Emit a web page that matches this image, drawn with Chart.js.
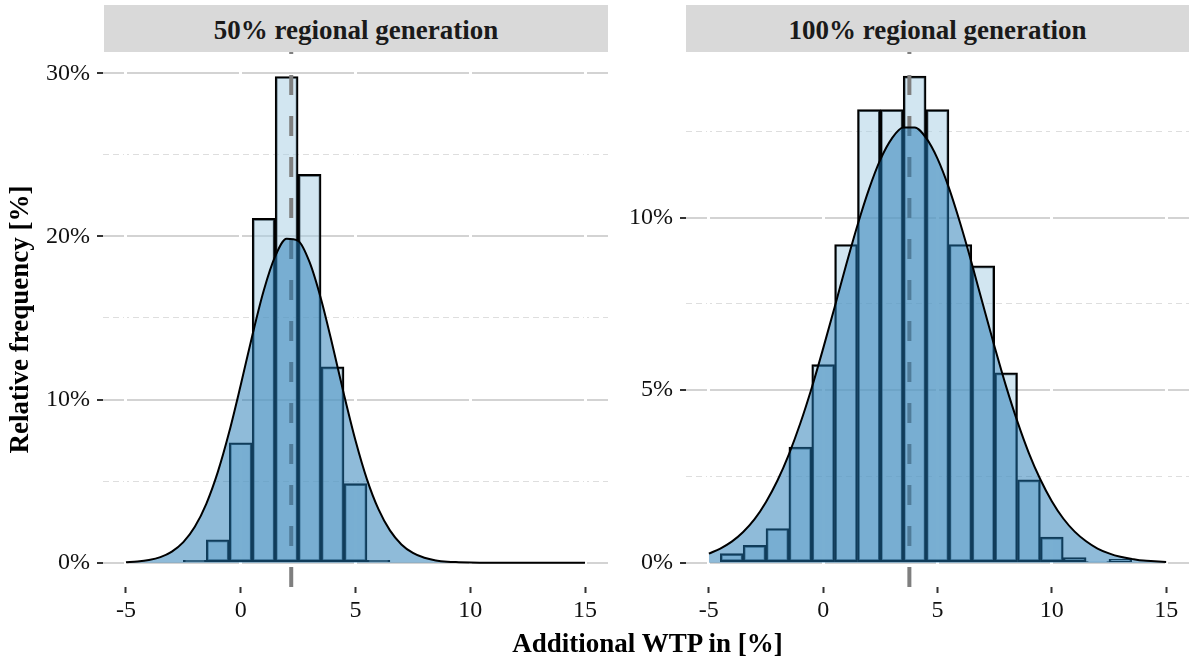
<!DOCTYPE html>
<html>
<head>
<meta charset="utf-8">
<script src="https://cdn.jsdelivr.net/npm/chart.js@4.4.1/dist/chart.umd.min.js"></script>
<style>
  body { margin: 0; width: 1189px; height: 662px; position: relative; background: #fff; overflow: hidden;
         font-family: 'Liberation Serif', 'Times New Roman', serif; }
  .strip { position: absolute; top: 5px; height: 47px; background: #d9d9d9; color: #1a1a1a;
           font-weight: bold; font-size: 27px; line-height: 51px; text-align: center; white-space: nowrap; }
  canvas { position: absolute; top: 52px; }
  #xtitle { position: absolute; left: 447px; width: 401px; top: 628px; line-height: 30px;
            text-align: center; font-weight: bold; font-size: 27px; color: #000; white-space: nowrap; }
</style>
</head>
<body>
<div class="strip" id="strip50" style="left:104px;width:504px;"></div>
<div class="strip" id="strip100" style="left:686px;width:503px;"></div>
<canvas id="c50" width="608" height="590" style="left:0px;"></canvas>
<canvas id="c100" width="579" height="590" style="left:610px;"></canvas>
<div id="xtitle"></div>
<script>
// panel titles and axis titles
const panelTitles = ["50% regional generation", "100% regional generation"];
const xTitle = "Additional WTP in [%]";
const yTitle = "Relative frequency [%]";

// histogram bins (centre of each 1-point bin) and relative frequencies in %
const bins50 = [-2, -1, 0, 1, 2, 3, 4, 5, 6];
const freq50 = [0.15, 1.4, 7.35, 21.1, 29.8, 23.8, 12.0, 4.85, 0.15];

const bins100 = [-4, -3, -2, -1, 0, 1, 2, 3, 4, 5, 6, 7, 8, 9, 10, 11, 12, 13];
const freq100 = [0.26, 0.5, 0.99, 3.35, 5.74, 9.22, 13.13, 13.13, 14.1, 13.13, 9.22, 8.6, 5.5, 2.4, 0.74, 0.15, 0.03, 0.1];

// fitted curve, every half point
const curveX = [-5, -4.5, -4, -3.5, -3, -2.5, -2, -1.5, -1, -0.5, 0, 0.5, 1, 1.5, 2, 2.5, 3, 3.5, 4, 4.5,
                5, 5.5, 6, 6.5, 7, 7.5, 8, 8.5, 9, 9.5, 10, 10.5, 11, 11.5, 12, 12.5, 13, 13.5, 14, 14.5, 15];
const curve50 = [0.03, 0.07, 0.16, 0.34, 0.68, 1.26, 2.2, 3.61, 5.55, 8.02, 10.89, 13.9, 16.67, 18.77, 19.85, 19.73,
                 18.42, 16.15, 13.31, 10.3, 7.49, 5.11, 3.28, 1.98, 1.12, 0.6, 0.3, 0.14, 0.06, 0.03, 0.01,
                 0, 0, 0, 0, 0, 0, 0, 0, 0, 0];
const curve100 = [0.26, 0.41, 0.61, 0.89, 1.26, 1.76, 2.38, 3.14, 4.04, 5.07, 6.21, 7.4, 8.62, 9.78, 10.82, 11.68,
                  12.29, 12.61, 12.61, 12.31, 11.71, 10.86, 9.82, 8.67, 7.45, 6.25, 5.11, 4.08, 3.17, 2.41, 1.78,
                  1.28, 0.9, 0.62, 0.41, 0.27, 0.17, 0.11, 0.06, 0.04, 0.02];

// mean of each distribution (dashed line)
const mean50 = 2.2;
const mean100 = 3.77;

// ticks
const xTicks = [-5, 0, 5, 10, 15];
const yTicks50 = [0, 5, 10, 15, 20, 25, 30];
const yLabels50 = [0, 10, 20, 30];
const yTicks100 = [0, 2.5, 5, 7.5, 10, 12.5];
const yLabels100 = [0, 5, 10];

document.getElementById("strip50").textContent = panelTitles[0];
document.getElementById("strip100").textContent = panelTitles[1];
document.getElementById("xtitle").textContent = xTitle;

Chart.defaults.font.family = "'Liberation Serif', 'Times New Roman', serif";

function makePanel(id, bins, freq, curve, mean, yTicks, yLabels, yMin, yMax, axisWidth, showYTitle) {
    const isMajor = (v) => yLabels.includes(v);
    return new Chart(document.getElementById(id), {
        type: "bar",
        data: {
            datasets: [
                {
                    // density curve, drawn on top
                    type: "line",
                    order: 1,
                    data: curveX.map((x, i) => ({ x: x, y: curve[i] })),
                    borderColor: "#000",
                    borderWidth: 2,
                    backgroundColor: "rgba(31,120,180,0.5)",
                    fill: "origin",
                    pointRadius: 0,
                    cubicInterpolationMode: "monotone",
                },
                {
                    // mean line
                    type: "line",
                    order: 2,
                    data: [{ x: mean, y: yMin }, { x: mean, y: yMax }],
                    borderColor: "#7f7f7f",
                    borderWidth: 4,
                    borderDash: [20, 21],
                    pointRadius: 0,
                    fill: false,
                },
                {
                    type: "bar",
                    order: 3,
                    data: bins.map((b, i) => ({ x: b, y: freq[i] })),
                    backgroundColor: "rgba(166,206,227,0.5)",
                    borderColor: "#000",
                    borderWidth: 2,
                    borderSkipped: false,
                    barPercentage: 1,
                    categoryPercentage: 1,
                },
            ],
        },
        options: {
            responsive: false,
            animation: false,
            layout: { padding: 0 },
            plugins: { legend: { display: false }, tooltip: { enabled: false } },
            scales: {
                x: {
                    type: "linear",
                    min: -6,
                    max: 16,
                    offset: false,
                    afterBuildTicks: (s) => { s.ticks = xTicks.map((v) => ({ value: v })); },
                    afterFit: (s) => { s.height = 55; s.paddingLeft = 0; s.paddingRight = 0; },
                    grid: { offset: false, color: "#ffffff", lineWidth: 3, tickLength: 6, tickColor: "#333", tickWidth: 2, z: -0.5 },
                    border: { display: false },
                    ticks: { color: "#111", font: { size: 24 }, padding: 3, maxRotation: 0, callback: (v) => String(v) },
                },
                y: {
                    type: "linear",
                    min: yMin,
                    max: yMax,
                    afterBuildTicks: (s) => { s.ticks = yTicks.map((v) => ({ value: v })); },
                    afterFit: (s) => { s.width = axisWidth; s.paddingTop = 0; s.paddingBottom = 0; },
                    grid: {
                        color: (c) => (isMajor(c.tick.value) ? "#d3d3d3" : "#dedede"),
                        lineWidth: (c) => (isMajor(c.tick.value) ? 2 : 1),
                        tickLength: 6,
                        tickWidth: 2,
                        tickColor: (c) => (isMajor(c.tick.value) ? "#333" : "rgba(0,0,0,0)"),
                    },
                    border: { display: false, dash: (c) => (c.tick && !isMajor(c.tick.value) ? [6, 4] : []) },
                    ticks: {
                        color: "#111",
                        font: { size: 24 },
                        padding: 7,
                        callback: (v) => (isMajor(v) ? v + "%" : ""),
                    },
                    title: {
                        display: showYTitle,
                        text: yTitle,
                        color: "#000",
                        font: { size: 27, weight: "bold" },
                        padding: { top: 5, bottom: 0 },
                    },
                },
            },
        },
    });
}

makePanel("c50", bins50, freq50, curve50, mean50, yTicks50, yLabels50, -1.49, 31.3, 103, true);
makePanel("c100", bins100, freq100, curve100, mean100, yTicks100, yLabels100, -0.705, 14.8, 76, false);
</script>
</body>
</html>
